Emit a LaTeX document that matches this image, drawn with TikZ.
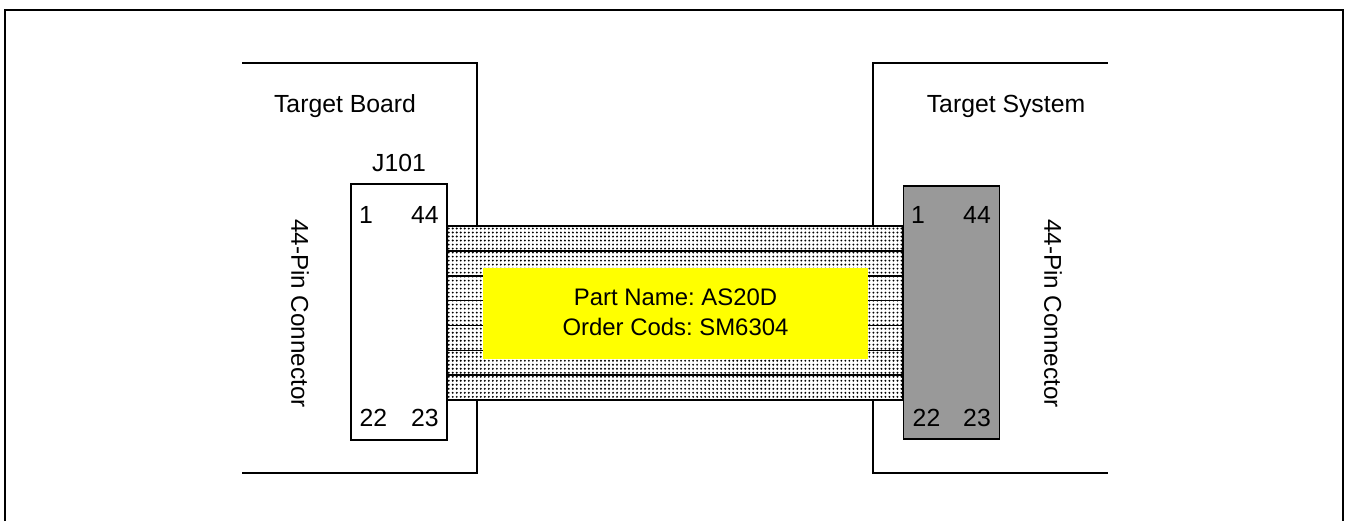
\documentclass[tikz,border=0pt]{standalone}
\usepackage{fontspec}
\setmainfont{Liberation Sans}
\frenchspacing
\usetikzlibrary{calc,positioning,patterns.meta}
\definecolor{Plug}{HTML}{999999}
\definecolor{Tag}{HTML}{FFFF00}
\tikzset{
  pinbox/.style={draw,line width=0.45pt,inner sep=0pt,outer sep=0pt,minimum width=0.96cm},
  wall/.style={line width=0.4pt},
  label/.style={inner sep=0pt,font=\fontsize{7.05}{8.5}\selectfont},
  sidelabel/.style={inner sep=0pt,rotate=-90,font=\fontsize{6.9}{8.5}\selectfont},
}
\begin{document}
\begin{tikzpicture}[font=\fontsize{7.05}{8.5}\selectfont]
      \useasboundingbox (0,0) rectangle (13.5,5.21);
      % outer frame, open at the bottom
      \coordinate (fsw) at (0.05,0);
      \coordinate (fnw) at (0.05,5.11);
      \coordinate (fne) at (13.43,5.11);
      \coordinate (fse) at (13.43,0);
      \draw[line width=0.6pt] (fsw) -- (fnw) -- (fne) -- (fse);

      % flat cable
      \node[draw,line width=0.45pt,inner sep=0pt,outer sep=0pt,minimum width=4.56cm,minimum height=1.74cm,
            pattern={Dots[radius=0.3pt,distance=1.14pt]}] (cable) at (6.75,2.08) {};
      \foreach \i in {1,...,6}
        \draw[line width=0.45pt] ($(cable.north west)!\i/7!(cable.south west)$)
          -- ($(cable.north east)!\i/7!(cable.south east)$);
      \node[fill=Tag,minimum width=3.85cm,minimum height=0.91cm,inner sep=0pt] (tag) at (6.755,2.075) {};
      \node[inner sep=0pt,font=\fontsize{6.8}{8.5}\selectfont,align=center,yshift=0.012cm] (tagtext) at (tag) {
        Part Name: AS20D\\
        Order Cods: SM6304
      };

      % connectors
      \node[pinbox,fill=white,minimum height=2.56cm] (j101) at (3.99,2.09) {};
      \node[pinbox,fill=Plug,minimum height=2.53cm] (plug) at (9.515,2.085) {};
      \node[label,above=0.12cm of j101] (j101name) {J101};

      % board outlines
      \coordinate (bt) at (4.77,0 |- cable.north west);
      \coordinate (bb) at (4.77,0 |- cable.south west);
      \coordinate (st) at (8.73,0 |- cable.north east);
      \coordinate (sb) at (8.73,0 |- cable.south east);
      \draw[wall] (bt) -- (4.77,4.58) -- (2.42,4.58);
      \draw[wall] (bb) -- (4.77,0.48) -- (2.42,0.48);
      \draw[wall] (st) -- (8.73,4.58) -- (11.08,4.58);
      \draw[wall] (sb) -- (8.73,0.48) -- (11.08,0.48);
      \node[label] (board) at (3.45,4.15) {Target Board};
      \node[label] (system) at (10.06,4.15) {Target System};

      % pin numbers
      \node[label] (a1) at (3.66,3.06) {1};
      \node[label] (a44) at (4.25,3.06) {44};
      \node[label] (a22) at (3.735,1.03) {22};
      \node[label] (a23) at (4.25,1.03) {23};
      \node[label] (b1) at (9.18,3.06) {1};
      \node[label] (b44) at (9.77,3.06) {44};
      \node[label] (b22) at (9.265,1.03) {22};
      \node[label] (b23) at (9.77,1.03) {23};

      \node[sidelabel] (lpins) at (3.00,2.075) {44-Pin Connector};
      \node[sidelabel] (rpins) at (10.53,2.075) {44-Pin Connector};
    \end{tikzpicture}
\end{document}
